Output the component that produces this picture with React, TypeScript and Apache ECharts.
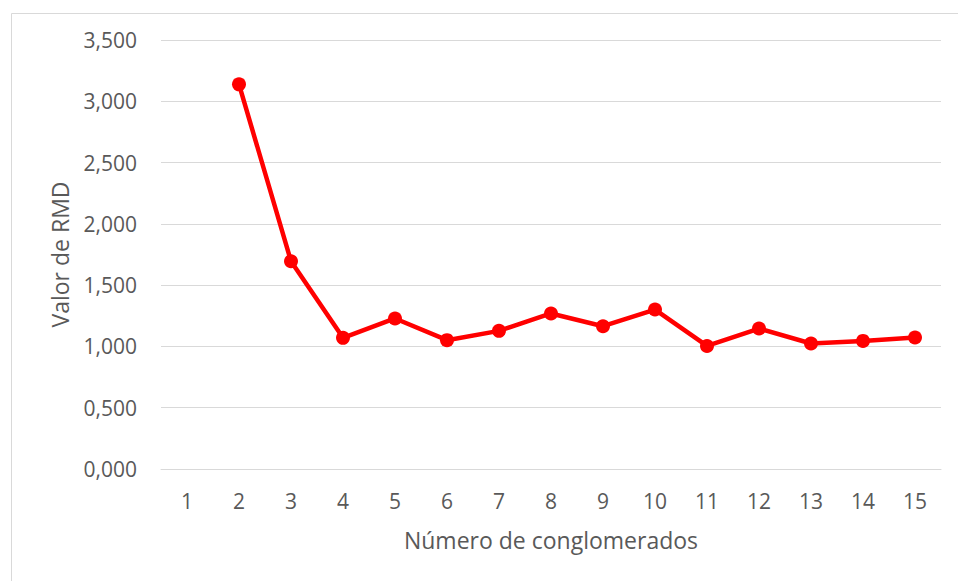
import React, { useEffect, useRef } from "react";
import * as echarts from "echarts";

const categories = ["1", "2", "3", "4", "5", "6", "7", "8", "9", "10", "11", "12", "13", "14", "15"];
const rmdValues: (number | null)[] = [null, 3.138, 1.695, 1.07, 1.228, 1.051, 1.127, 1.269, 1.165, 1.301, 1.004, 1.146, 1.024, 1.045, 1.073];
const yTicks = { min: 0, max: 3.5, interval: 0.5 };
const xTitle = "Número de conglomerados";
const yTitle = "Valor de RMD";

const FONT = "'Open Sans', 'Noto Sans', sans-serif";
const TEXT = "#595959";

export default function App() {
  const ref = useRef<HTMLDivElement>(null);
  useEffect(() => {
    if (!ref.current) return;
    const chart = echarts.init(ref.current, null, { renderer: "svg" });
    chart.setOption({
      animation: false,
      backgroundColor: "#ffffff",
      graphic: [
        {
          type: "rect",
          left: 9,
          top: 11,
          shape: { width: 1000, height: 600 },
          style: { fill: "none", stroke: "#d9d9d9", lineWidth: 1 },
          silent: true,
        },
      ],
      grid: { left: 161, right: 17, top: 40, bottom: 112, containLabel: false },
      xAxis: {
        type: "category",
        data: categories,
        boundaryGap: true,
        axisLine: { show: true, lineStyle: { color: "#d9d9d9", width: 1 } },
        axisTick: { show: false },
        axisLabel: { color: TEXT, fontSize: 21, fontFamily: FONT, margin: 21 },
        name: xTitle,
        nameLocation: "middle",
        nameGap: 59,
        nameTextStyle: { color: TEXT, fontSize: 23, fontFamily: FONT },
        splitLine: { show: false },
      },
      yAxis: {
        type: "value",
        min: yTicks.min,
        max: yTicks.max,
        interval: yTicks.interval,
        axisLine: { show: false },
        axisTick: { show: false },
        axisLabel: {
          color: TEXT,
          fontSize: 21,
          fontFamily: FONT,
          margin: 24,
          formatter: (v: number) => v.toFixed(3).replace(".", ","),
        },
        splitLine: { show: true, lineStyle: { color: "#d9d9d9", width: 1 } },
        name: yTitle,
        nameLocation: "middle",
        nameGap: 90,
        nameRotate: 90,
        nameTextStyle: { color: TEXT, fontSize: 23, fontFamily: FONT },
      },
      series: [
        {
          type: "line",
          data: rmdValues,
          connectNulls: false,
          symbol: "circle",
          symbolSize: 14,
          lineStyle: { color: "#ff0000", width: 4.5 },
          itemStyle: { color: "#ff0000" },
        },
      ],
    });
    return () => chart.dispose();
  }, []);
  return <div ref={ref} style={{ width: 958, height: 581, position: "absolute", left: 0, top: 0 }} />;
}
